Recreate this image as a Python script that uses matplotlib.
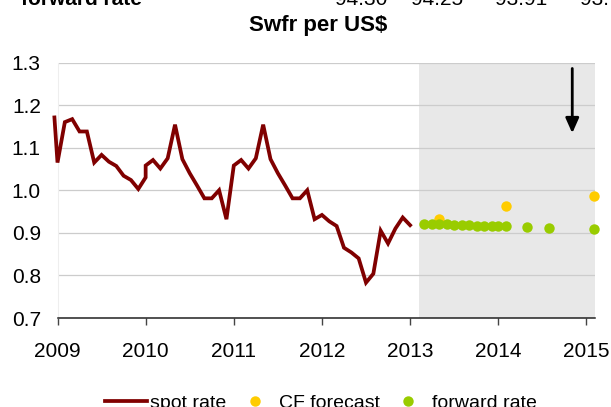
import numpy as np
import matplotlib.pyplot as plt
from matplotlib.lines import Line2D

plt.rcParams['font.family'] = ['Liberation Sans', 'DejaVu Sans']

# spot rate, monthly (Swfr per US$)
spot_x = ([2008.965] + [2009 + m / 12 for m in range(13)] + [2010.0]
          + [2010 + m / 12 for m in range(1, 37)])
spot_y = [1.171,
          1.065, 1.160, 1.167, 1.138, 1.138, 1.065, 1.083, 1.067, 1.057, 1.034, 1.024, 1.003, 1.030,
          1.058,
          1.071, 1.051, 1.075, 1.154, 1.073, 1.040, 1.011, 0.981, 0.981, 1.000, 0.932, 1.058,
          1.071, 1.051, 1.075, 1.154, 1.073, 1.040, 1.011, 0.981, 0.981, 1.000, 0.932, 0.942,
          0.927, 0.916, 0.865, 0.854, 0.840, 0.783, 0.804, 0.905, 0.875, 0.910, 0.936, 0.918]

# consensus forecast
cf_x = [2013.33, 2014.09, 2015.09]
cf_y = [0.932, 0.963, 0.986]

# forward rate
fwd_x = [2013.157, 2013.245, 2013.33, 2013.415, 2013.50, 2013.585, 2013.67, 2013.755,
         2013.84, 2013.925, 2014.0, 2014.09, 2014.33, 2014.58, 2015.085]
fwd_y = [0.921, 0.921, 0.921, 0.921, 0.919, 0.918, 0.918, 0.917,
         0.917, 0.916, 0.916, 0.916, 0.914, 0.912, 0.909]

years = [2009, 2010, 2011, 2012, 2013, 2014, 2015]
yticks = [0.7, 0.8, 0.9, 1.0, 1.1, 1.2, 1.3]
forecast_start = 2013.10
arrow_x, arrow_top, arrow_tip = 2014.84, 1.286, 1.134

top_numbers = ["94.30", "94.25", "93.91", "93.71"]
top_number_px = [361, 437, 521, 606]

red = '#800000'
yellow = '#ffcc00'
green = '#99cc00'

fig = plt.figure(figsize=(6.11, 4.07), dpi=100)
ax = fig.add_axes([57.5 / 611, 1 - 318 / 407, (595 - 57.5) / 611, (318 - 62.5) / 407])

ax.axvspan(forecast_start, 2015.098, color='#e8e8e8', lw=0, zorder=0.2)
ax.plot(spot_x, spot_y, color=red, lw=2.7, clip_on=False, zorder=3, solid_joinstyle='miter')
ax.plot(cf_x, cf_y, 'o', color=yellow, ms=7.5, mew=0, clip_on=False, zorder=4)
ax.plot(fwd_x, fwd_y, 'o', color=green, ms=7.5, mew=0, clip_on=False, zorder=5)

ax.annotate('', xy=(arrow_x, arrow_tip), xytext=(arrow_x, arrow_top),
            arrowprops=dict(arrowstyle='-|>,head_length=0.9,head_width=0.4',
                            color='black', lw=2, shrinkA=0, shrinkB=0,
                            mutation_scale=10))

ax.set_xlim(2009.0, 2015.098)
ax.set_ylim(0.7, 1.3)
ax.set_xticks(years)
ax.set_xticklabels([str(y) for y in years])
ax.set_yticks(yticks)
ax.set_yticklabels(['%.1f' % v for v in yticks])
ax.yaxis.grid(True, color='#cccccc', lw=0.9)
ax.set_axisbelow(True)

for s in ['top', 'right']:
    ax.spines[s].set_visible(False)
ax.spines['left'].set_color('#eeeeee')
ax.spines['bottom'].set_color('#222222')
ax.spines['bottom'].set_linewidth(1.1)
ax.tick_params(axis='x', length=5, width=1, color='#444444', pad=12, labelsize=15)
ax.tick_params(axis='y', length=0, pad=12, labelsize=15)

fig.text(318 / 611, 1 - 25 / 407, 'Swfr per US$', ha='center', va='center',
         fontsize=16, fontweight='bold')

# partly cut-off row from the table above the chart
fig.text(142 / 611, 1 - 4.7 / 407, 'forward rate', ha='right', va='baseline',
         fontsize=15, fontweight='bold')
for t, px in zip(top_numbers, top_number_px):
    fig.text(px / 611, 1 - 4.7 / 407, t, ha='center', va='baseline', fontsize=15)

handles = [Line2D([], [], color=red, lw=2.7),
           Line2D([], [], ls='', marker='o', color=yellow, ms=7.5, mew=0),
           Line2D([], [], ls='', marker='o', color=green, ms=7.5, mew=0)]
fig.legend(handles, ['spot rate', 'CF forecast', 'forward rate'], loc='center',
           bbox_to_anchor=(321 / 611, 1 - 403 / 407), ncol=3, frameon=False,
           fontsize=14, handlelength=2.15, handletextpad=0.15, columnspacing=0.4,
           borderpad=0, borderaxespad=0)

fig.savefig('out.png', dpi=100)
